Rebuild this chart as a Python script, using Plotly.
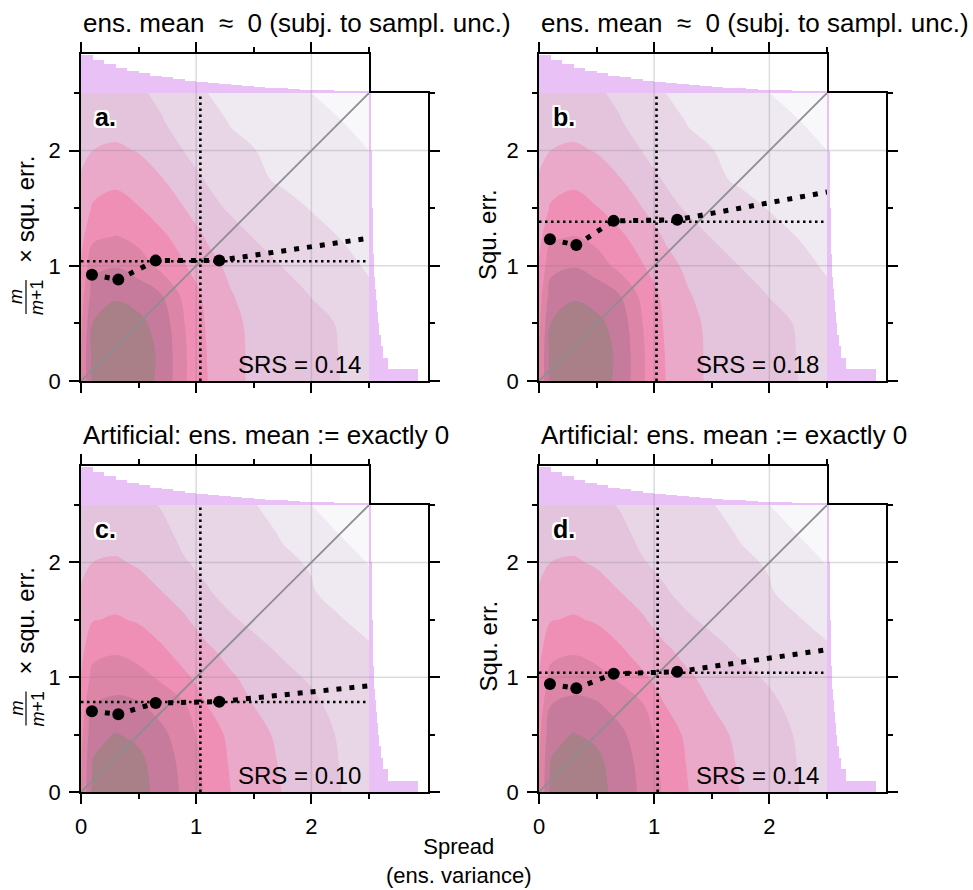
import plotly.graph_objects as go

W, H = 973, 890
FONT = "Liberation Sans, Arial, Helvetica, sans-serif"

# ---------------- data ----------------
GRID_X = [0, 0.1, 0.3, 0.5, 0.7, 0.9, 1.1, 1.3, 1.5, 1.75, 2.0, 2.25, 2.5]
GRID_Y = [0, 0.25, 0.5, 0.75, 1.0, 1.25, 1.5, 1.75, 2.0, 2.25, 2.5]

# density level (contour band index) estimated at the grid nodes, rows = GRID_Y
DENSITY_LEVEL_AB = [
    [5.5, 7.7, 8.5, 7.9, 7.3, 5.6, 4.5, 3.85, 3.3, 3.0, 2.75, 2.5, 2.1],
    [5.5, 7.8, 8.6, 8.0, 7.3, 5.6, 4.45, 3.85, 3.3, 3.0, 2.75, 2.48, 2.0],
    [5.3, 7.5, 8.2, 7.75, 7.1, 5.5, 4.35, 3.8, 3.25, 2.95, 2.7, 2.45, 1.9],
    [5.0, 6.9, 7.3, 7.1, 6.5, 5.2, 4.2, 3.55, 3.15, 2.8, 2.47, 2.05, 1.65],
    [4.6, 6.2, 6.45, 6.0, 5.2, 4.55, 3.8, 3.3, 2.95, 2.48, 2.15, 1.75, 1.4],
    [4.2, 5.3, 5.55, 5.2, 4.7, 4.05, 3.4, 2.95, 2.47, 2.2, 1.85, 1.48, 1.15],
    [3.9, 4.6, 4.85, 4.55, 4.0, 3.5, 2.85, 2.35, 2.15, 1.85, 1.45, 1.2, 0.95],
    [3.6, 4.1, 4.3, 4.0, 3.55, 3.0, 2.4, 2.1, 1.7, 1.35, 1.1, 0.9, 0.75],
    [3.2, 3.5, 3.65, 3.45, 3.0, 2.47, 2.05, 1.7, 1.53, 1.2, 0.95, 0.75, 0.5],
    [2.9, 3.1, 3.15, 2.9, 2.55, 2.2, 1.8, 1.45, 1.25, 1.0, 0.75, 0.52, 0.3],
    [2.7, 2.85, 2.85, 2.6, 2.35, 1.95, 1.5, 1.3, 1.1, 0.85, 0.5, 0.3, 0.1],
]
DENSITY_LEVEL_CD = [
    [5.5, 7.7, 8.5, 7.9, 7.1, 6.3, 5.3, 4.5, 4.0, 3.48, 2.95, 2.52, 2.1],
    [5.4, 7.55, 8.05, 7.75, 7.0, 6.2, 5.2, 4.4, 3.95, 3.4, 2.92, 2.48, 2.05],
    [5.2, 7.2, 7.55, 7.3, 6.75, 5.9, 5.05, 4.25, 3.8, 3.3, 2.85, 2.42, 1.95],
    [4.9, 6.5, 6.8, 6.65, 6.1, 5.6, 4.5, 3.9, 3.5, 3.1, 2.72, 2.2, 1.85],
    [4.5, 5.8, 6.0, 5.8, 5.35, 4.65, 4.1, 3.6, 3.25, 2.75, 2.38, 2.0, 1.75],
    [4.2, 5.15, 5.35, 5.1, 4.6, 4.05, 3.6, 3.2, 2.75, 2.35, 2.05, 1.8, 1.6],
    [3.9, 4.45, 4.6, 4.4, 4.0, 3.6, 3.05, 2.6, 2.3, 2.0, 1.75, 1.55, 1.22],
    [3.6, 3.95, 4.05, 3.85, 3.5, 3.1, 2.55, 2.2, 2.0, 1.8, 1.55, 1.2, 0.82],
    [3.2, 3.5, 3.6, 3.4, 3.05, 2.55, 2.3, 2.05, 1.85, 1.6, 1.45, 0.95, 0.45],
    [2.9, 3.1, 3.15, 3.0, 2.7, 2.3, 2.05, 1.85, 1.7, 1.45, 0.9, 0.47, 0.25],
    [2.7, 2.85, 2.85, 2.7, 2.45, 2.15, 1.9, 1.7, 1.55, 1.1, 0.5, 0.3, 0.1],
]
LEVEL_COLORS = ["#f8f7fa", "#efe9f2", "#e8d6e6", "#e4c4dc", "#eba9ca",
                "#ef8fb6", "#dd85a6", "#c67b9c", "#a97f88"]

HIST_BIN_CENTERS = [0.05, 0.15, 0.25, 0.35, 0.45, 0.55, 0.65, 0.75, 0.85, 0.95,
                    1.05, 1.15, 1.25, 1.35, 1.45, 1.55, 1.65, 1.75, 1.85, 1.95,
                    2.05, 2.15, 2.25, 2.35, 2.45]
SPREAD_HIST = [112, 96, 84, 72, 64, 59, 51, 46, 41, 36, 32, 28, 25, 22, 20,
               18, 16, 14, 11, 10, 9, 8, 7, 6, 5]
SQERR_HIST = [49, 19, 14, 12, 10, 8.5, 7.5, 6.5, 5.5, 5, 4.5, 4.2, 4, 3.8, 3.6,
              3.4, 3.2, 3, 2.8, 2.6, 2.4, 2.2, 2.0, 1.9, 1.8]

BIN_SPREAD = [0.095, 0.324, 0.648, 1.20]
TREND_END_X = 2.5
BIN_SQERR_A = [0.923, 0.88, 1.045, 1.047]
BIN_SQERR_B = [1.23, 1.18, 1.39, 1.40]
BIN_SQERR_C = [0.703, 0.677, 0.775, 0.787]
BIN_SQERR_D = [0.94, 0.903, 1.03, 1.048]
TREND_END_A = 1.24
TREND_END_B = 1.64
TREND_END_C = 0.925
TREND_END_D = 1.24
MEAN_SPREAD = [1.036, 1.02, 1.036, 1.03]
MEAN_SQERR = [1.039, 1.383, 0.784, 1.039]
SRS_VALUES = ["0.14", "0.18", "0.10", "0.14"]
PANEL_LETTERS = ["a.", "b.", "c.", "d."]
TITLE_TOP = "ens. mean  \u2248  0 (subj. to sampl. unc.)"
TITLE_BOTTOM = "Artificial: ens. mean := exactly 0"
TITLES = [TITLE_TOP, TITLE_TOP, TITLE_BOTTOM, TITLE_BOTTOM]
SCALED_LABEL = [True, False, True, False]

TICK_MAJOR = [0, 1, 2]
TICK_MINOR = [0.5, 1.5, 2.5]
GRID_TICKS = [1, 2]
AX_MAX = 2.5
TOP_HIST_MAX = 114
RIGHT_HIST_MAX = 59

# ---------------- layout geometry (pixels) ----------------
PANELS = [  # left, top of main plot, main height
    (81, 93, 288), (539, 93, 288), (81, 505, 287), (539, 505, 287)]
MAIN_W = 288
TOP_H = 39
RIGHT_W = 59


def fx(px):
    return px / W


def fy(py):
    return 1 - py / H


def axkey(p, idx):
    return f"{p}axis" if idx == 1 else f"{p}axis{idx}"


def axref(p, idx):
    return p if idx == 1 else f"{p}{idx}"


LINE = dict(showline=True, linecolor="black", linewidth=1.5, showgrid=False,
            zeroline=False, fixedrange=True)


def ticked(show_labels):
    return dict(ticks="outside", tickmode="array", tickvals=TICK_MAJOR, ticklen=10,
                tickwidth=1.5, tickcolor="black", showticklabels=show_labels,
                ticklabelstandoff=4,
                tickfont=dict(family=FONT, size=22, color="black"),
                minor=dict(tickmode="array", tickvals=TICK_MINOR, ticks="outside",
                           ticklen=5, tickwidth=1.5, tickcolor="black", showgrid=False))


fig = go.Figure()
layout = {}
annotations = []
shapes = []

GRID_COLOR = "rgba(130,130,140,0.28)"
colorscale = [[k / 8, c] for k, c in enumerate(LEVEL_COLORS)]
trend_sets = [(BIN_SQERR_A, TREND_END_A), (BIN_SQERR_B, TREND_END_B),
              (BIN_SQERR_C, TREND_END_C), (BIN_SQERR_D, TREND_END_D)]
HALO = ("2px 2px 0 white, -2px -2px 0 white, 2px -2px 0 white, -2px 2px 0 white, "
        "0 2px 0 white, 0 -2px 0 white, 2px 0 0 white, -2px 0 0 white")

for i, (left, top, mh) in enumerate(PANELS):
    im, it, ir = 3 * i + 1, 3 * i + 2, 3 * i + 3
    xm, ym = axref("x", im), axref("y", im)
    xt, yt = axref("x", it), axref("y", it)
    xr, yr = axref("x", ir), axref("y", ir)
    bottom_row = i >= 2

    # axes
    layout[axkey("x", im)] = dict(domain=[fx(left), fx(left + MAIN_W)], range=[0, AX_MAX],
                                  anchor=ym, mirror=True, **LINE, **ticked(bottom_row))
    layout[axkey("y", im)] = dict(domain=[fy(top + mh), fy(top)], range=[0, AX_MAX],
                                  anchor=xm, mirror=True, **LINE, **ticked(True))
    layout[axkey("x", it)] = dict(domain=[fx(left), fx(left + MAIN_W)], range=[0, AX_MAX],
                                  anchor=yt, side="top", **LINE, **ticked(False))
    layout[axkey("y", it)] = dict(domain=[fy(top), fy(top - TOP_H)], range=[0, TOP_HIST_MAX],
                                  anchor=xt, mirror=True, showticklabels=False, ticks="", **LINE)
    layout[axkey("x", ir)] = dict(domain=[fx(left + MAIN_W), fx(left + MAIN_W + RIGHT_W)],
                                  range=[0, RIGHT_HIST_MAX], anchor=yr, mirror=True,
                                  showticklabels=False, ticks="", **LINE)
    layout[axkey("y", ir)] = dict(domain=[fy(top + mh), fy(top)], range=[0, AX_MAX],
                                  anchor=xr, side="right", **LINE, **ticked(False))

    levels = DENSITY_LEVEL_AB if i < 2 else DENSITY_LEVEL_CD
    fig.add_trace(go.Contour(
        x=GRID_X, y=GRID_Y, z=levels, xaxis=xm, yaxis=ym,
        contours=dict(start=0.5, end=7.5, size=1, coloring="fill", showlines=False),
        colorscale=colorscale, showscale=False, line=dict(width=0, smoothing=1.0),
        hoverinfo="skip"))

    # gridlines over the density
    gx, gy = [], []
    for g in GRID_TICKS:
        gx += [g, g, None, 0, AX_MAX, None]
        gy += [0, AX_MAX, None, g, g, None]
    fig.add_trace(go.Scatter(x=gx, y=gy, xaxis=xm, yaxis=ym, mode="lines",
                             line=dict(color=GRID_COLOR, width=1.5), hoverinfo="skip"))

    # 1:1 diagonal
    fig.add_trace(go.Scatter(x=[0, AX_MAX], y=[0, AX_MAX], xaxis=xm, yaxis=ym, mode="lines",
                             line=dict(color="#8d8d92", width=1.8), hoverinfo="skip"))
    # mean lines
    fig.add_trace(go.Scatter(x=[MEAN_SPREAD[i], MEAN_SPREAD[i]], y=[0, AX_MAX], xaxis=xm,
                             yaxis=ym, mode="lines",
                             line=dict(color="black", width=2.6, dash="2.5px,3.5px"),
                             hoverinfo="skip"))
    fig.add_trace(go.Scatter(x=[0, AX_MAX], y=[MEAN_SQERR[i], MEAN_SQERR[i]], xaxis=xm,
                             yaxis=ym, mode="lines",
                             line=dict(color="black", width=2.6, dash="2.5px,3.5px"),
                             hoverinfo="skip"))
    # binned means + trend
    bins_y, end_y = trend_sets[i]
    fig.add_trace(go.Scatter(x=BIN_SPREAD + [TREND_END_X], y=bins_y + [end_y], xaxis=xm,
                             yaxis=ym, mode="lines",
                             line=dict(color="black", width=5, dash="5px,8px"),
                             hoverinfo="skip"))
    fig.add_trace(go.Scatter(x=BIN_SPREAD, y=bins_y, xaxis=xm, yaxis=ym, mode="markers",
                             marker=dict(color="black", size=12), hoverinfo="skip"))

    # marginal histograms
    fig.add_trace(go.Bar(x=HIST_BIN_CENTERS, y=SPREAD_HIST, width=0.1, xaxis=xt, yaxis=yt,
                         marker=dict(color="#eac1f6", line=dict(width=0)), hoverinfo="skip"))
    tx, ty = [], []
    for g in GRID_TICKS:
        tx += [g, g, None]
        ty += [0, TOP_HIST_MAX, None]
    fig.add_trace(go.Scatter(x=tx, y=ty, xaxis=xt, yaxis=yt, mode="lines",
                             line=dict(color=GRID_COLOR, width=1.5), hoverinfo="skip"))
    fig.add_trace(go.Bar(y=HIST_BIN_CENTERS, x=SQERR_HIST, width=0.1, orientation="h",
                         xaxis=xr, yaxis=yr,
                         marker=dict(color="#eac1f6", line=dict(width=0)), hoverinfo="skip"))
    rx, ry = [], []
    for g in GRID_TICKS:
        rx += [0, RIGHT_HIST_MAX, None]
        ry += [g, g, None]
    fig.add_trace(go.Scatter(x=rx, y=ry, xaxis=xr, yaxis=yr, mode="lines",
                             line=dict(color=GRID_COLOR, width=1.5), hoverinfo="skip"))

    # texts
    annotations.append(dict(text=TITLES[i], xref="paper", yref="paper", x=fx(left),
                            y=fy(top - 70), xanchor="left", yanchor="middle", showarrow=False,
                            font=dict(family=FONT, size=26, color="black")))
    annotations.append(dict(text=f"<b>{PANEL_LETTERS[i]}</b>", xref=xm, yref=ym, x=0.1, y=2.29,
                            xanchor="left", yanchor="middle", showarrow=False,
                            font=dict(family=FONT, size=25, color="black", shadow=HALO)))
    annotations.append(dict(text=f"SRS = {SRS_VALUES[i]}", xref=xm, yref=ym, x=2.45, y=0.14,
                            xanchor="right", yanchor="middle", showarrow=False,
                            font=dict(family=FONT, size=24, color="black")))
    cy = top + mh / 2
    if SCALED_LABEL[i]:
        annotations.append(dict(text="\u00d7 squ. err.", xref="paper", yref="paper",
                                x=fx(left - 56), y=fy(cy - 27), textangle=-90,
                                xanchor="center", yanchor="middle", showarrow=False,
                                font=dict(family=FONT, size=24, color="black")))
        annotations.append(dict(text="<i>m</i>", xref="paper", yref="paper",
                                x=fx(left - 65), y=fy(cy + 60), textangle=-90,
                                xanchor="center", yanchor="middle", showarrow=False,
                                font=dict(family=FONT, size=18, color="black")))
        annotations.append(dict(text="<i>m</i>+1", xref="paper", yref="paper",
                                x=fx(left - 44), y=fy(cy + 60), textangle=-90,
                                xanchor="center", yanchor="middle", showarrow=False,
                                font=dict(family=FONT, size=18, color="black")))
        shapes.append(dict(type="line", xref="paper", yref="paper",
                           x0=fx(left - 55), x1=fx(left - 55),
                           y0=fy(cy + 43), y1=fy(cy + 77),
                           line=dict(color="black", width=1.2)))
    else:
        annotations.append(dict(text="Squ. err.", xref="paper", yref="paper",
                                x=fx(left - 51), y=fy(cy - 2), textangle=-90,
                                xanchor="center", yanchor="middle", showarrow=False,
                                font=dict(family=FONT, size=24, color="black")))

annotations.append(dict(text="Spread<br>(ens. variance)", xref="paper", yref="paper",
                        x=fx(459), y=fy(861), xanchor="center", yanchor="middle",
                        showarrow=False, font=dict(family=FONT, size=22, color="black")))

fig.update_layout(width=W, height=H,
                  margin=dict(l=0, r=0, t=0, b=0, autoexpand=False),
                  paper_bgcolor="white", plot_bgcolor="white", showlegend=False,
                  bargap=0, annotations=annotations, shapes=shapes,
                  font=dict(family=FONT, color="black"), **layout)

fig.write_html("out.html",
               config={"displayModeBar": False, "staticPlot": False},
               post_script="document.body.style.margin='0px';"
                           "document.body.style.padding='0px';"
                           "document.body.style.overflow='hidden';")
